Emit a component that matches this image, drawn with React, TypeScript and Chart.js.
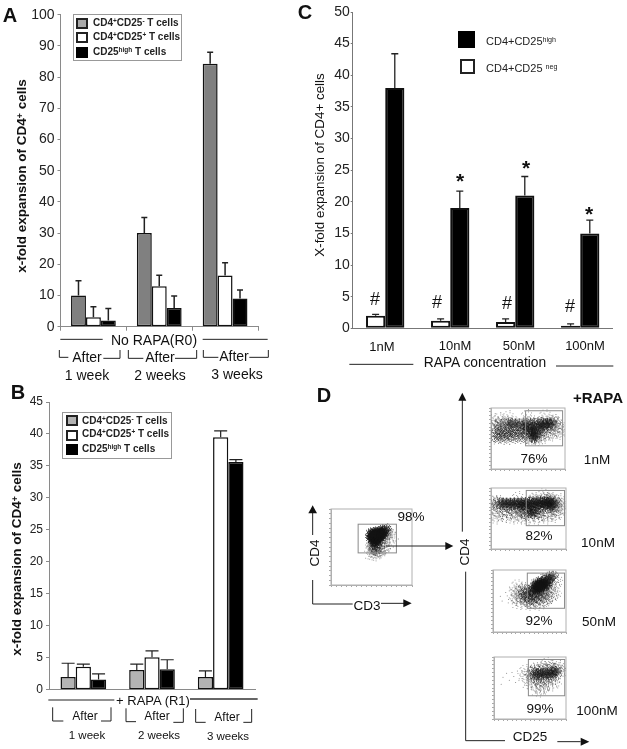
import React, { useEffect, useRef } from "react";
import { Chart, registerables } from "chart.js";

Chart.register(...registerables);

// ---------- data: panel A ----------
const weeksA = ["1 week", "2 weeks", "3 weeks"];
const aNeg = [10, 30, 84.3];
const aPos = [3, 13, 16.4];
const aHigh = [2, 6, 9];
const aNegTop = [14.7, 35, 88];
const aPosTop = [6.4, 16.5, 20.5];
const aHighTop = [5.8, 9.8, 11.8];
const aTicks = 10;

// ---------- data: panel B ----------
const weeksB = ["1 week", "2 weeks", "3 weeks"];
const bNeg = [2, 3.1, 2];
const bPos = [3.6, 5.1, 39.5];
const bHigh = [1.6, 3.2, 35.6];
const bNegTop = [4.15, 4, 2.95];
const bPosTop = [4, 6.1, 40.5];
const bHighTop = [2.5, 4.7, 36];

// ---------- data: panel C ----------
const doses = ["1nM", "10nM", "50nM", "100nM"];
const cNeg = [2, 1.2, 1, 0.4];
const cHigh = [38, 19, 21, 15];
const cNegTop = [2.2, 1.5, 1.5, 0.7];
const cHighTop = [43.4, 21.7, 24, 17.1];

// ---------- data: panel D (positions in log decades) ----------
type P = number[][];
const cd3Dense: P = [[2.0,2.67],[2.1,2.75],[2.23,2.75],[2.35,2.8],[2.46,2.78],[2.6,2.85],[2.69,2.92],[2.0,2.5],[2.15,2.55],[2.3,2.6],[2.45,2.6],[2.58,2.65],[2.08,2.42],[2.2,2.4],[2.31,2.45],[2.15,2.25],[2.28,2.3],[2.1,2.6],[2.25,2.5],[2.4,2.7],[2.05,2.58],[2.2,2.65],[2.35,2.5],[2.12,2.48],[2.28,2.7],[2.42,2.55],[2.18,2.35],[2.5,2.72],[2.02,2.62],[2.33,2.42],[2.25,2.58],[2.15,2.7],[2.38,2.62],[2.52,2.8]];
const cd3Mid: P = [[2.08,2.0],[2.23,1.92],[2.15,2.1],[2.3,2.1],[2.54,2.42],[2.77,2.67],[2.7,2.8]];
const cd3Light: P = [[2.08,1.75],[2.2,1.72],[2.38,1.83],[2.6,2.08],[2.45,2.0],[2.85,2.5]];
const cd3Specks: P = [[1.9,2.2],[1.95,1.9],[2.5,1.75],[2.7,2.2],[2.9,2.7],[2.95,2.9],[2.75,2.05],[1.85,2.75],[2.55,1.9],[2.0,1.72]];

const d1Dense: P = [[1.1,3.0],[1.5,2.95],[1.9,3.0],[2.3,3.0],[2.7,3.05],[3.0,3.0],[3.2,3.0],[1.9,2.7],[2.2,2.7],[2.5,2.75],[2.8,2.8],[2.2,2.4],[2.4,2.35],[2.35,2.1]];
const d1Mid: P = [[0.5,2.9],[0.8,2.9],[1.2,2.7],[1.6,2.6],[2.0,2.4],[2.6,2.4],[2.9,2.6],[3.3,2.8],[3.4,3.05],[0.3,2.2],[0.6,2.15],[0.9,2.15],[1.2,2.2],[1.5,2.2],[1.8,2.2],[2.1,2.1],[2.45,2.05],[1.0,2.4],[0.6,2.4]];
const d1Light: P = [[0.2,2.6],[0.2,3.0],[0.5,3.05],[0.5,2.3],[1.0,3.2],[2.0,3.25],[3.0,3.3],[3.6,2.8],[3.3,2.4],[2.9,2.25],[1.4,2.4],[0.15,2.2],[3.7,2.5],[2.6,2.2]];
const d1Specks: P = [[3.8,2.6],[3.75,3.0],[3.5,2.2],[3.2,2.1],[2.9,2.0],[3.9,2.8],[0.1,3.2],[0.7,3.25],[1.4,3.35],[2.6,3.45],[3.3,3.4],[3.6,3.3],[0.1,2.4]];

const d2Dense: P = [[0.6,3.0],[1.0,3.0],[1.4,3.0],[1.8,3.0],[2.2,3.0],[2.6,3.02],[3.0,3.05],[3.3,3.0],[1.7,2.85],[2.1,2.8],[2.5,2.85],[2.9,2.85],[3.2,2.8],[2.1,2.45],[2.3,2.4],[0.8,3.0],[1.2,3.0],[1.6,3.02],[2.0,3.05],[2.4,3.1],[2.8,3.1],[3.15,3.1]];
const d2Mid: P = [[0.2,3.0],[0.4,3.0],[1.0,2.8],[1.5,2.75],[2.3,3.2],[2.9,3.2],[3.4,2.75],[3.5,3.0],[1.9,2.4],[2.6,2.4],[2.5,2.6],[1.7,2.5],[3.2,3.2]];
const d2Light: P = [[0.4,2.5],[0.8,2.3],[1.2,2.2],[1.6,2.2],[0.3,2.2],[2.0,2.15],[2.5,2.15],[3.0,2.2],[3.4,2.3],[3.6,2.6],[3.0,2.5],[0.8,2.6],[1.3,2.5],[3.7,3.0],[1.5,3.15],[2.9,3.4]];
const d2Specks: P = [[0.1,2.3],[0.6,2.0],[1.1,2.0],[1.9,1.9],[2.7,1.9],[3.3,2.0],[3.75,2.3],[3.85,2.8],[0.8,3.25],[2.1,3.45],[3.3,3.45],[3.7,3.25]];

const d3Dense: P = [[2.58,3.0],[2.83,3.2],[3.08,3.4],[3.25,3.6],[2.33,2.9],[2.17,2.7],[2.5,2.7],[2.75,2.9],[2.95,3.05],[2.4,3.1],[2.65,3.25],[2.9,3.45],[2.45,2.85],[2.7,3.05],[2.6,3.15],[2.55,2.9],[2.8,3.1],[2.5,3.0],[2.65,2.95],[2.4,2.95]];
const d3Mid: P = [[2.0,2.3],[1.75,2.2],[2.25,2.2],[2.5,2.3],[1.83,2.5],[2.0,2.6],[2.9,2.7],[3.08,3.1],[1.67,2.7],[2.75,2.4],[2.3,2.45],[2.1,2.05]];
const d3Light: P = [[1.5,2.3],[1.5,2.0],[2.0,1.95],[2.5,1.95],[2.9,2.2],[3.25,2.6],[3.4,3.3],[1.25,2.3],[1.4,2.8],[3.17,2.4],[2.75,2.05]];
const d3Specks: P = [[0.4,2.3],[0.5,2.0],[0.7,2.55],[0.85,2.1],[1.0,2.4],[1.0,2.75],[1.15,1.9],[0.9,2.9],[3.4,2.6],[3.55,2.85],[3.6,3.2],[3.1,1.95],[1.3,3.05],[3.45,3.8]];

const d4Dense: P = [[2.38,2.92],[2.64,2.92],[2.9,2.92],[3.15,2.95],[3.4,3.05]];
const d4Mid: P = [[2.13,2.92],[2.3,3.15],[2.72,3.2],[3.15,3.25],[3.5,3.15],[2.47,2.66],[2.9,2.6],[3.3,2.76]];
const d4Light: P = [[1.8,2.9],[2.3,2.36],[2.72,2.17],[3.23,2.36],[3.66,3.15],[2.04,2.46],[2.55,1.97],[2.98,3.35]];
const d4Specks: P = [[0.5,2.7],[0.7,2.95],[0.85,2.5],[1.0,3.0],[1.2,2.35],[1.4,2.6],[1.55,3.1],[1.7,2.2],[0.4,2.25],[3.0,1.85],[3.5,2.5],[3.75,2.8],[2.4,1.75],[3.3,3.55],[2.6,3.55],[1.1,2.75],[1.45,2.9],[1.3,3.1]];

// ---------- layout (page pixels) ----------
const flowPanels = [
  { frame: [328.3, 506, 415, 587.7], gate: [1.34, 3.23, 1.69, 3.2], dense: cd3Dense, mid: cd3Mid, light: cd3Light, specks: cd3Specks },
  { frame: [488.3, 405.3, 568.3, 472], gate: [1.87, 3.87, 1.52, 3.82], dense: d1Dense, mid: d1Mid, light: d1Light, specks: d1Specks },
  { frame: [488.3, 484.7, 569, 551.7], gate: [1.88, 3.92, 1.53, 3.84], dense: d2Dense, mid: d2Mid, light: d2Light, specks: d2Specks },
  { frame: [489.7, 567.3, 569, 635.3], gate: [1.88, 3.92, 1.53, 3.8], dense: d3Dense, mid: d3Mid, light: d3Light, specks: d3Specks },
  { frame: [491.3, 654, 569, 721.7], gate: [1.91, 3.93, 1.5, 3.84], dense: d4Dense, mid: d4Mid, light: d4Light, specks: d4Specks },
];

const FONT = "'Liberation Sans', Arial, sans-serif";

// fixed stipple table that gives the cytometry clouds their grain
const STIPPLE = [
  "3708152946071385", "9241670385912467", "5063829174036928", "1794053682417053",
  "8320976145892361", "4651238709560274", "0987416253738196", "7235690841025783",
  "2516807394681540", "6049321758934027", "3872465019267831", "9150783642509164",
  "4726051938174295", "0361947285063718", "8593210764829406", "1648735092316570",
];

const errorBars = {
  id: "errorBars",
  afterDatasetsDraw(chart: any) {
    const { ctx } = chart;
    const y = chart.scales.y;
    chart.data.datasets.forEach((ds: any, di: number) => {
      const meta = chart.getDatasetMeta(di);
      meta.data.forEach((bar: any, i: number) => {
        const top = y.getPixelForValue(ds.errorTops[i]);
        ctx.save();
        ctx.strokeStyle = "#222";
        ctx.lineWidth = ds.errorWidth;
        ctx.beginPath();
        ctx.moveTo(bar.x, bar.y);
        ctx.lineTo(bar.x, top);
        ctx.moveTo(bar.x - ds.errorCap / 2, top);
        ctx.lineTo(bar.x + ds.errorCap / 2, top);
        ctx.stroke();
        ctx.restore();
      });
    });
  },
};

function barConfig(o: any) {
  const border = "#111";
  return {
    type: "bar",
    data: {
      labels: o.labels,
      datasets: o.series.map((s: any) => ({
        data: s.values,
        errorTops: s.tops,
        errorCap: o.cap,
        errorWidth: o.errLw,
        backgroundColor: s.color,
        borderColor: border,
        borderWidth: o.barLw,
        borderSkipped: false,
        categoryPercentage: o.groupFrac,
        barPercentage: 1,
      })),
    },
    options: {
      animation: false,
      responsive: false,
      maintainAspectRatio: false,
      layout: { padding: { top: o.area[1], right: o.w - o.area[2], left: 0, bottom: 0 } },
      plugins: { legend: { display: false }, tooltip: { enabled: false } },
      scales: {
        x: {
          afterFit(s: any) { s.height = o.h - o.area[3]; },
          ticks: { display: false },
          border: { color: o.axisColor, width: 1 },
          grid: { offset: true, drawOnChartArea: false, drawTicks: o.xTicks, tickLength: 4, color: o.axisColor },
        },
        y: {
          min: 0,
          max: o.max,
          afterFit(s: any) { s.width = o.area[0]; },
          ticks: { stepSize: o.step, color: "#222", padding: o.tickPad, font: { family: FONT, size: o.tickSize } },
          border: { color: o.axisColor, width: 1 },
          grid: { drawOnChartArea: false, drawTicks: o.yTickLen > 0, tickLength: o.yTickLen, color: o.axisColor },
        },
      },
    },
    plugins: [errorBars],
  };
}

function grain(size: number, density: number, alpha: number) {
  const c = document.createElement("canvas");
  c.width = size;
  c.height = size;
  const g = c.getContext("2d")!;
  const r = size / 2;
  g.fillStyle = `rgba(20,20,20,${alpha})`;
  for (let j = 0; j < size; j++) {
    for (let i = 0; i < size; i++) {
      const d = Math.hypot(i + 0.5 - r, j + 0.5 - r) / r;
      if (d >= 1) continue;
      const level = Number(STIPPLE[j % 16][i % 16]) / 10;
      if (level < density * (1 - d)) g.fillRect(i, j, 1, 1);
    }
  }
  return c;
}

function flowConfig(p: any, pad: number, sprites: any) {
  const toXY = (a: P) => a.map(([x, y]) => ({ x, y }));
  const gatePlugin = {
    id: "gate",
    afterDatasetsDraw(chart: any) {
      const { ctx, chartArea: a, scales } = chart;
      const [x0, x1, y0, y1] = p.gate;
      ctx.save();
      ctx.strokeStyle = "#8a8a8a";
      ctx.lineWidth = 1;
      ctx.strokeRect(
        scales.x.getPixelForValue(x0),
        scales.y.getPixelForValue(y1),
        scales.x.getPixelForValue(x1) - scales.x.getPixelForValue(x0),
        scales.y.getPixelForValue(y0) - scales.y.getPixelForValue(y1)
      );
      ctx.strokeStyle = "#b0b0b0";
      ctx.strokeRect(a.left, a.top, a.right - a.left, a.bottom - a.top);
      ctx.restore();
    },
  };
  const axis = (fit: any) => ({
    min: 0,
    max: 4,
    ...fit,
    ticks: { display: false, stepSize: 0.25, autoSkip: false },
    border: { color: "#b0b0b0" },
    grid: { drawOnChartArea: false, drawTicks: true, tickLength: 2, color: "#a8a8a8" },
  });
  const layer = (a: P, sprite: any, radius: number, color: string) => ({
    data: toXY(a),
    pointStyle: sprite,
    pointRadius: radius,
    pointBorderWidth: 0,
    backgroundColor: color,
    borderColor: color,
    showLine: false,
  });
  return {
    type: "scatter",
    data: {
      datasets: [
        layer(p.specks, "circle", 0.5, "#777"),
        layer(p.light, sprites.light, 8, "#888"),
        layer(p.mid, sprites.mid, 7, "#555"),
        layer(p.dense, sprites.dense, 6, "#111"),
      ],
    },
    options: {
      animation: false,
      responsive: false,
      maintainAspectRatio: false,
      layout: { padding: { top: pad, right: pad, left: 0, bottom: 0 } },
      plugins: { legend: { display: false }, tooltip: { enabled: false } },
      scales: {
        x: axis({ type: "linear", afterFit(s: any) { s.height = pad; } }),
        y: axis({ type: "linear", afterFit(s: any) { s.width = pad; } }),
      },
    },
    plugins: [gatePlugin],
  };
}

// ---------- overlay text ----------
const Z = (o: number, v: number) => o + v / 3;

function T(props: any) {
  const { ox, oy, x, y, size, bold, rot, children } = props;
  return (
    <div
      style={{
        position: "absolute",
        left: Z(ox, x),
        top: Z(oy, y),
        transform: `translate(-50%,-50%)${rot ? " rotate(-90deg)" : ""}`,
        fontFamily: FONT,
        fontSize: size,
        fontWeight: bold ? 700 : 400,
        color: "#111",
        whiteSpace: "nowrap",
        lineHeight: 1,
        willChange: rot ? "auto" : "transform",
      }}
    >
      {children}
    </div>
  );
}

const supStyle: any = { fontSize: "0.65em", verticalAlign: "baseline", position: "relative", top: "-0.4em", lineHeight: 0 };
const Up = ({ children }: any) => <span style={supStyle}>{children}</span>;

function Legend({ oy, box, rows }: any) {
  return (
    <>
      <div style={{ position: "absolute", left: Z(0, box[0]), top: Z(oy, box[1]), width: (box[2] - box[0]) / 3, height: (box[3] - box[1]) / 3, border: "1px solid #999", boxSizing: "border-box", background: "#fff" }} />
      {rows.map((r: any, i: number) => (
        <React.Fragment key={i}>
          <div style={{ position: "absolute", left: Z(0, r.px), top: Z(oy, r.py), width: 12, height: 11, background: r.color, border: `2px solid ${r.color === "#000" ? "#000" : "#222"}`, boxSizing: "border-box" }} />
          <div style={{ position: "absolute", left: Z(0, r.tx), top: Z(oy, r.ty), transform: "translateY(-50%)", willChange: "transform", fontFamily: FONT, fontSize: 10, fontWeight: 700, whiteSpace: "nowrap", color: "#222", lineHeight: 1 }}>{r.label}</div>
        </React.Fragment>
      ))}
    </>
  );
}

const PB = [0, 380];
const PC = [300, 0];
const PD = [300, 380];

const thinLines: any[] = [
  // A
  [0, 0, [[181, 1018], [308, 1018]]], [0, 0, [[608, 1018], [803, 1018]]],
  [0, 0, [[178, 1050], [178, 1072], [205, 1072]]], [0, 0, [[310, 1075], [360, 1075], [360, 1050]]],
  [0, 0, [[385, 1050], [385, 1075], [430, 1075]]], [0, 0, [[525, 1075], [590, 1075], [590, 1050]]],
  [0, 0, [[610, 1050], [610, 1072], [655, 1072]]], [0, 0, [[748, 1072], [805, 1072], [805, 1050]]],
  // B
  [...PB, [[145, 960], [343, 960]]],
  [...PB, [[158, 982], [158, 1023], [190, 1023]]], [...PB, [[303, 1023], [333, 1023], [333, 982]]],
  [...PB, [[378, 985], [378, 1025], [408, 1025]]], [...PB, [[520, 1027], [550, 1027], [550, 985]]],
  [...PB, [[587, 987], [587, 1027], [617, 1027]]], [...PB, [[730, 1027], [755, 1027], [755, 987]]],
  // C
  [...PC, [[148, 1093], [340, 1093]]], [...PC, [[768, 1098], [940, 1098]]],
  // D
  [...PD, [[38, 465], [38, 392]]], [...PD, [[38, 600], [38, 672], [158, 672]]], [...PD, [[243, 670], [312, 670]]],
  [...PD, [[258, 498], [438, 498]]], [...PD, [[487, 455], [487, 60]]],
  [...PD, [[497, 575], [497, 1082], [615, 1082]]], [...PD, [[772, 1085], [842, 1085]]],
];

const arrowHeads: any[] = [
  [...PD, [[38, 376], [25, 400], [51, 400]]],
  [...PD, [[335, 670], [310, 658], [310, 682]]],
  [...PD, [[460, 498], [436, 486], [436, 510]]],
  [...PD, [[487, 38], [475, 62], [499, 62]]],
  [...PD, [[868, 1085], [842, 1073], [842, 1097]]],
];

function Overlay() {
  const pts = (o: any, a: number[][]) => a.map(([x, y]) => `${Z(o[0], x)},${Z(o[1], y)}`).join(" ");
  return (
    <svg width={627} height={749} style={{ position: "absolute", left: 0, top: 0 }}>
      {thinLines.map((l, i) => (
        <polyline key={i} points={pts(l, l[2])} fill="none" stroke="#222" strokeWidth={1} />
      ))}
      <polyline points={pts(PB, [[570, 957], [773, 957]])} fill="none" stroke="#333" strokeWidth={1.6} />
      {arrowHeads.map((l, i) => (
        <polygon key={i} points={pts(l, l[2])} fill="#111" />
      ))}
    </svg>
  );
}

export default function App() {
  const refs = useRef<(HTMLCanvasElement | null)[]>([]);

  const barPanels = [
    {
      key: "A", left: 0, top: 0, w: 300, h: 340, area: [60.5, 14.7, 258, 326.7], max: 100, step: aTicks, tickSize: 14, tickPad: 3, yTickLen: 3,
      labels: weeksA, groupFrac: 0.68, cap: 6, errLw: 1.5, barLw: 1.5, axisColor: "#8a8a8a", xTicks: true,
      series: [
        { values: aNeg, tops: aNegTop, color: "#808080" },
        { values: aPos, tops: aPosTop, color: "#fff" },
        { values: aHigh, tops: aHighTop, color: "#000" },
      ],
    },
    {
      key: "B", left: 0, top: 390, w: 300, h: 310, area: [49, 12, 255, 300.7], max: 45, step: 5, tickSize: 12, tickPad: 3, yTickLen: 3,
      labels: weeksB, groupFrac: 0.665, cap: 13, errLw: 1.2, barLw: 1.5, axisColor: "#8a8a8a", xTicks: false,
      series: [
        { values: bNeg, tops: bNegTop, color: "#b3b3b3" },
        { values: bPos, tops: bPosTop, color: "#fff" },
        { values: bHigh, tops: bHighTop, color: "#000" },
      ],
    },
    {
      key: "C", left: 300, top: 0, w: 327, h: 340, area: [52.7, 12, 312.7, 328.3], max: 50, step: 5, tickSize: 14, tickPad: 1, yTickLen: 2,
      labels: doses, groupFrac: 0.59, cap: 7, errLw: 1.3, barLw: 2, axisColor: "#777", xTicks: false,
      series: [
        { values: cNeg, tops: cNegTop, color: "#fff" },
        { values: cHigh, tops: cHighTop, color: "#000" },
      ],
    },
  ];

  const PAD = 5;

  useEffect(() => {
    const charts: any[] = [];
    const sprites = { light: grain(20, 0.3, 0.4), mid: grain(17, 0.6, 0.5), dense: grain(13, 1.5, 0.62) };
    barPanels.forEach((p, i) => {
      charts.push(new Chart(refs.current[i] as any, barConfig(p) as any));
    });
    flowPanels.forEach((p, i) => {
      charts.push(new Chart(refs.current[barPanels.length + i] as any, flowConfig(p, PAD, sprites) as any));
    });
    return () => charts.forEach((c) => c.destroy());
  }, []);

  const legendRows = (px: number, tx: number, grey: string, ys: number[][]) => [
    { px, py: ys[0][0], tx, ty: ys[0][1], color: grey, label: <>CD4<Up>+</Up>CD25<Up>-</Up> T cells</> },
    { px, py: ys[1][0], tx, ty: ys[1][1], color: "#fff", label: <>CD4<Up>+</Up>CD25<Up>+</Up> T cells</> },
    { px, py: ys[2][0], tx, ty: ys[2][1], color: "#000", label: <>CD25<Up>high</Up> T cells</> },
  ];

  return (
    <div style={{ position: "absolute", left: 0, top: 0, width: 627, height: 749, background: "#fff", overflow: "hidden" }}>
      {barPanels.map((p, i) => (
        <canvas
          key={p.key}
          ref={(el) => { refs.current[i] = el; }}
          width={p.w}
          height={p.h}
          style={{ position: "absolute", left: p.left, top: p.top, width: p.w, height: p.h }}
        />
      ))}
      {flowPanels.map((p, i) => {
        const w = Math.round(p.frame[2] - p.frame[0] + 2 * PAD);
        const h = Math.round(p.frame[3] - p.frame[1] + 2 * PAD);
        return (
          <canvas
            key={i}
            ref={(el) => { refs.current[barPanels.length + i] = el; }}
            width={w}
            height={h}
            style={{ position: "absolute", left: p.frame[0] - PAD, top: p.frame[1] - PAD, width: w, height: h, filter: "blur(0.4px)" }}
          />
        );
      })}
      <Overlay />

      <Legend oy={0} box={[218, 43, 547, 184]} rows={legendRows(229, 280, "#aaa", [[53, 68], [97, 110], [140, 155]])} />
      <Legend oy={380} box={[187, 96, 517, 237]} rows={legendRows(197, 247, "#b3b3b3", [[105, 122], [150, 163], [193, 208]])} />

      {/* Panel A */}
      <T ox={0} oy={0} x={31} y={45} size={20} bold>A</T>
      <T ox={0} oy={0} x={65} y={527} size={13.5} bold rot>x-fold expansion of CD4<Up>+</Up> cells</T>
      <T ox={0} oy={0} x={462} y={1020} size={14}>No RAPA(R0)</T>
      <T ox={0} oy={0} x={260} y={1072} size={14}>After</T>
      <T ox={0} oy={0} x={480} y={1072} size={14}>After</T>
      <T ox={0} oy={0} x={703} y={1067} size={14}>After</T>
      <T ox={0} oy={0} x={260} y={1125} size={14}>{weeksA[0]}</T>
      <T ox={0} oy={0} x={480} y={1125} size={14}>{weeksA[1]}</T>
      <T ox={0} oy={0} x={710} y={1122} size={14}>{weeksA[2]}</T>

      {/* Panel B */}
      <T ox={0} oy={380} x={55} y={35} size={20} bold>B</T>
      <T ox={0} oy={380} x={50} y={538} size={13.5} bold rot>x-fold expansion of CD4<Up>+</Up> cells</T>
      <T ox={0} oy={380} x={460} y={960} size={13}>+ RAPA (R1)</T>
      <T ox={0} oy={380} x={255} y={1007} size={12}>After</T>
      <T ox={0} oy={380} x={472} y={1007} size={12}>After</T>
      <T ox={0} oy={380} x={680} y={1012} size={12}>After</T>
      <T ox={0} oy={380} x={260} y={1067} size={11.5}>{weeksB[0]}</T>
      <T ox={0} oy={380} x={478} y={1067} size={11.5}>{weeksB[1]}</T>
      <T ox={0} oy={380} x={685} y={1070} size={11.5}>{weeksB[2]}</T>

      {/* Panel C */}
      <T ox={300} oy={0} x={15} y={35} size={20} bold>C</T>
      <T ox={300} oy={0} x={60} y={495} size={13.4} rot>X-fold expansion of CD4+ cells</T>
      <div style={{ position: "absolute", left: Z(300, 473), top: Z(0, 93), width: 17, height: 17, background: "#000" }} />
      <div style={{ position: "absolute", left: Z(300, 480), top: Z(0, 178), width: 15, height: 15, background: "#fff", border: "2px solid #222", boxSizing: "border-box" }} />
      <div style={{ position: "absolute", left: Z(300, 557), top: Z(0, 122), transform: "translateY(-50%)", willChange: "transform", fontFamily: FONT, fontSize: 11, whiteSpace: "nowrap", lineHeight: 1, color: "#222" }}>CD4+CD25<Up>high</Up></div>
      <div style={{ position: "absolute", left: Z(300, 557), top: Z(0, 205), transform: "translateY(-50%)", willChange: "transform", fontFamily: FONT, fontSize: 11, whiteSpace: "nowrap", lineHeight: 1, color: "#222" }}>CD4+CD25 <Up>neg</Up></div>
      <T ox={300} oy={0} x={245} y={1037} size={13}>{doses[0]}</T>
      <T ox={300} oy={0} x={465} y={1035} size={13}>{doses[1]}</T>
      <T ox={300} oy={0} x={658} y={1035} size={13}>{doses[2]}</T>
      <T ox={300} oy={0} x={855} y={1035} size={13}>{doses[3]}</T>
      <T ox={300} oy={0} x={556} y={1090} size={13.8}>RAPA concentration</T>
      <T ox={300} oy={0} x={225} y={897} size={18}>#</T>
      <T ox={300} oy={0} x={410} y={905} size={18}>#</T>
      <T ox={300} oy={0} x={620} y={908} size={18}>#</T>
      <T ox={300} oy={0} x={810} y={918} size={18}>#</T>
      <T ox={300} oy={0} x={480} y={540} size={21} bold>*</T>
      <T ox={300} oy={0} x={678} y={502} size={21} bold>*</T>
      <T ox={300} oy={0} x={868} y={640} size={21} bold>*</T>

      {/* Panel D */}
      <T ox={300} oy={380} x={72} y={45} size={20} bold>D</T>
      <T ox={300} oy={380} x={893} y={50} size={15} bold>+RAPA</T>
      <T ox={300} oy={380} x={332} y={412} size={13.5}>98%</T>
      <T ox={300} oy={380} x={703} y={237} size={13.5}>76%</T>
      <T ox={300} oy={380} x={716} y={468} size={13.5}>82%</T>
      <T ox={300} oy={380} x={716} y={723} size={13.5}>92%</T>
      <T ox={300} oy={380} x={720} y={988} size={13.5}>99%</T>
      <T ox={300} oy={380} x={890} y={240} size={13.5}>{doses[0]}</T>
      <T ox={300} oy={380} x={893} y={490} size={13.5}>{doses[1]}</T>
      <T ox={300} oy={380} x={898} y={727} size={13.5}>{doses[2]}</T>
      <T ox={300} oy={380} x={892} y={992} size={13.5}>{doses[3]}</T>
      <T ox={300} oy={380} x={45} y={520} size={13.5} rot>CD4</T>
      <T ox={300} oy={380} x={202} y={677} size={13.5}>CD3</T>
      <T ox={300} oy={380} x={495} y={515} size={13.5} rot>CD4</T>
      <T ox={300} oy={380} x={690} y={1072} size={13.5}>CD25</T>
    </div>
  );
}
